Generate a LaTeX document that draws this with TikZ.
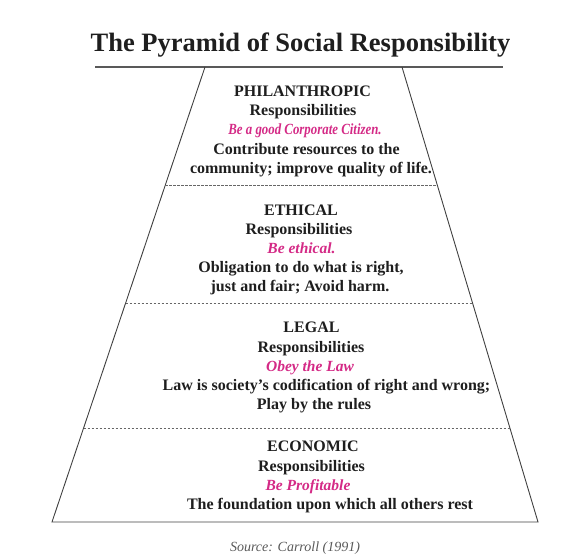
\documentclass[tikz,border=0pt]{standalone}
\usepackage{fontspec}
\usetikzlibrary{calc}
\setmainfont{Liberation Serif}
\definecolor{pinkc}{HTML}{D42A86}
\definecolor{txt}{HTML}{1E1E1E}
\begin{document}
\begin{tikzpicture}[x=1pt,y=-1pt,
  ln/.style={font=\fontsize{16}{19}\selectfont\bfseries,text=txt,inner sep=0pt,anchor=base},
  motto/.style={ln,font=\fontsize{15.5}{19}\selectfont\bfseries\itshape,text=pinkc},
  edge/.style={draw=black!75,line width=0.9pt},
  divider/.style={draw=black!60,line width=0.7pt,dash pattern=on 2.5pt off 1.5pt}]
\useasboundingbox (0,0) rectangle (581,559);
\node[font=\fontsize{26.5}{30}\selectfont\bfseries,text=txt,inner sep=0pt,anchor=base] (title) at (300.5,52) {The Pyramid of Social Responsibility};
\draw[draw=black!65,line width=1.2pt] (95,67) -- (503,67);
% pyramid corners
\coordinate (tl) at (205,67);
\coordinate (tr) at (402,67);
\coordinate (bl) at (52,522);
\coordinate (br) at (538,522);
\draw[edge] (tl) -- (bl) -- (br) -- (tr);
% dividers
\draw[divider] ($(tl)!118/455!(bl)$) -- ($(tr)!118/455!(br)$);
\draw[divider] ($(tl)!236/455!(bl)$) -- ($(tr)!236/455!(br)$);
\draw[divider] ($(tl)!361/455!(bl)$) -- ($(tr)!361/455!(br)$);
% philanthropic
\node[ln] (p1) at (302.5,96.7) {PHILANTHROPIC};
\node[ln] (p2) at (303,115.5) {Responsibilities};
\node[motto] (p3) at (305,135) {\scalebox{0.83}[1]{Be a good Corporate Citizen.}};
\node[ln] (p4) at (306.5,154.5) {Contribute resources to the};
\node[ln] (p5) at (311,173) {community; improve quality of life.};
% ethical
\node[ln] (e1) at (301,215) {ETHICAL};
\node[ln] (e2) at (299,234) {Responsibilities};
\node[motto] (e3) at (301.5,253) {Be ethical.};
\node[ln] (e4) at (301,272) {Obligation to do what is right,};
\node[ln] (e5) at (300,291.5) {just and fair; Avoid harm.};
% legal
\node[ln] (l1) at (311.5,332) {LEGAL};
\node[ln] (l2) at (311,352) {Responsibilities};
\node[motto] (l3) at (310,371.5) {Obey the Law};
\node[ln] (l4) at (326.5,390.5) {Law is society's codification of right and wrong;};
\node[ln] (l5) at (314,409) {Play by the rules};
% economic
\node[ln] (c1) at (313,451.7) {ECONOMIC};
\node[ln] (c2) at (311.5,471.5) {Responsibilities};
\node[motto] (c3) at (308,490.5) {Be Profitable};
\node[ln] (c4) at (330,509.5) {The foundation upon which all others rest};
\node[font=\fontsize{14}{16}\selectfont\itshape,text=black!65,inner sep=0pt,anchor=base] (src) at (295,551) {Source: Carroll (1991)};
\end{tikzpicture}
\end{document}
